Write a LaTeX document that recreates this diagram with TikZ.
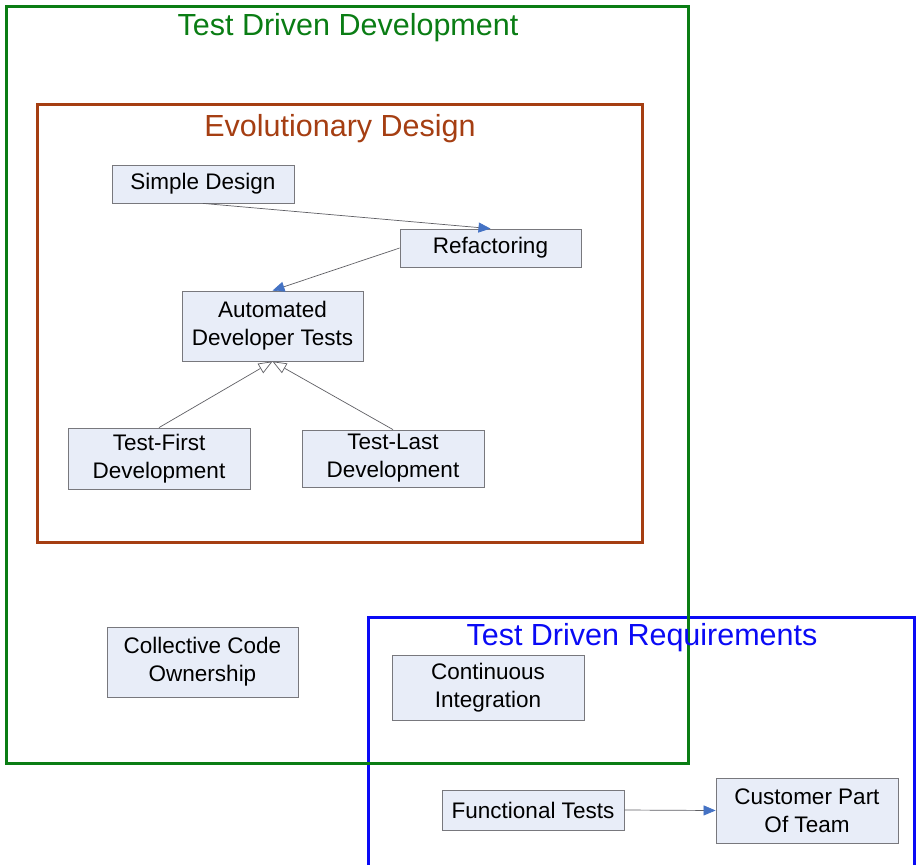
\documentclass[tikz,border=0pt]{standalone}
\usepackage{fontspec}
\setmainfont{Liberation Sans}
\usetikzlibrary{arrows.meta}
\definecolor{tddgreen}{RGB}{10,125,20}
\definecolor{edbrown}{RGB}{165,62,18}
\definecolor{tdrblue}{RGB}{10,10,245}
\definecolor{boxfill}{RGB}{232,237,248}
\definecolor{boxline}{RGB}{120,120,125}
\definecolor{arrowblue}{RGB}{68,114,196}
\definecolor{linegray}{RGB}{95,95,100}
\tikzset{
  concept/.style={draw=boxline, line width=0.8pt, fill=boxfill, inner sep=0pt, align=center,
    font=\fontsize{22.5}{28}\selectfont},
  frame/.style={line width=3pt},
  flow/.style={draw=linegray, line width=0.7pt, -{Triangle[length=12pt,width=10pt,fill=arrowblue,color=arrowblue]}},
  gen/.style={draw=linegray, line width=0.7pt, -{Triangle[open,length=14pt,width=11pt,fill=white]}},
  title/.style={font=\fontsize{30.5}{34}\selectfont, inner sep=0pt}
}
\begin{document}
\begin{tikzpicture}[x=1pt,y=-1pt]
\useasboundingbox (0,0) rectangle (916,865);
\clip (0,0) rectangle (916,865);
\fill[white] (0,0) rectangle (916,865);
% frames
\draw[frame, tdrblue] (368,617) rectangle (914,880);
\draw[frame, tddgreen] (6,6) rectangle (688,763);
\draw[frame, edbrown] (37,104) rectangle (642,542);
\node[title, text=tddgreen] (tddt) at (348,28) {Test Driven Development};
\node[title, text=edbrown] (edt) at (340,129) {Evolutionary Design};
\node[title, text=tdrblue] (tdrt) at (642,638) {Test Driven Requirements};
% concept boxes
\node[concept, minimum width=182pt, minimum height=38pt] (sd) at (203,184) {Simple Design};
\node[concept, minimum width=181pt, minimum height=38pt] (ref) at (490.5,248) {Refactoring};
\node[concept, minimum width=181pt, minimum height=70pt] (adt) at (272.5,326) {Automated\\Developer Tests};
\node[concept, minimum width=182pt, minimum height=61pt] (tf) at (159,458.5) {Test-First\\Development};
\node[concept, minimum width=182pt, minimum height=57pt] (tl) at (393,458.5) {Test-Last\\Development};
\node[concept, minimum width=191pt, minimum height=70pt] (cco) at (202.5,662) {Collective Code\\Ownership};
\node[concept, minimum width=192pt, minimum height=65pt] (ci) at (488,687.5) {Continuous\\Integration};
\node[concept, minimum width=182pt, minimum height=40pt] (ft) at (533,810) {Functional Tests};
\node[concept, minimum width=182pt, minimum height=65pt] (cpt) at (807,810.5) {Customer Part\\Of Team};
% connectors
\draw[flow] (sd.south) -- (ref.north);
\draw[flow] (ref.west) -- (adt.north);
\draw[gen] (tf.north) -- (adt.south);
\draw[gen] (tl.north) -- (adt.south);
\draw[flow] (ft.east) -- (cpt.west);
\end{tikzpicture}
\end{document}
